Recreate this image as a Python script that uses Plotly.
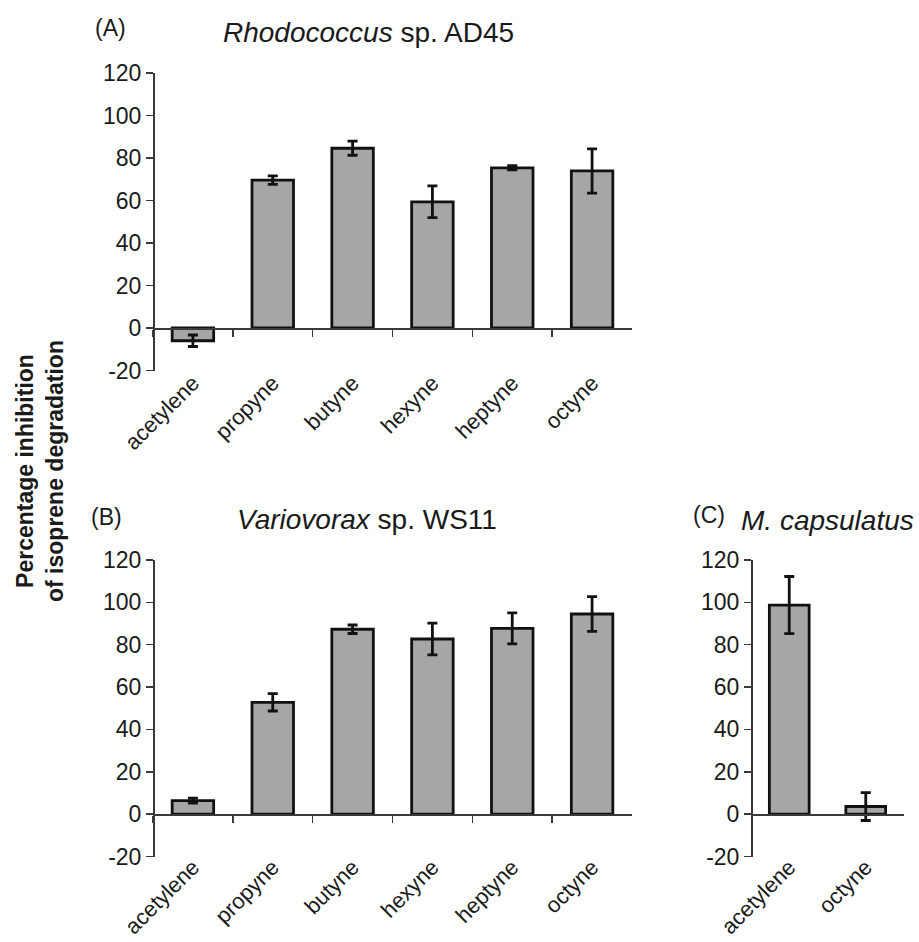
import plotly.graph_objects as go

W, H = 919, 942

cats_ab = ["acetylene", "propyne", "butyne", "hexyne", "heptyne", "octyne"]
vals_a = [-6.0, 69.6, 84.6, 59.4, 75.4, 73.9]
err_a = [2.7, 2.0, 3.3, 7.5, 1.0, 10.4]
vals_b = [6.4, 52.8, 87.3, 82.7, 87.7, 94.5]
err_b = [1.2, 4.1, 2.0, 7.5, 7.3, 8.2]
cats_c = ["acetylene", "octyne"]
vals_c = [98.7, 3.6]
err_c = [13.5, 6.6]

y_ticks = [-20, 0, 20, 40, 60, 80, 100, 120]
y_ticktext = ["-20", "0", "20", "40", "60", "80", "100", "120"]
Y_RANGE = [-20, 120]

FONT = "Liberation Sans, Arial, sans-serif"
TXT = "#1a1a1a"
AX = "#3a3a3a"
BAR = "#a6a6a6"


def px_x(x):
    return x / W


def px_y(y):
    return 1 - y / H


panels = [
    # (cats, vals, errs, x0, x1, ytop(120), ybottom(-20), boundary ticks, label standoff)
    (cats_ab, vals_a, err_a, 153, 632, 73, 370.5, True, 32),
    (cats_ab, vals_b, err_b, 153, 632, 560, 856.5, True, 30),
    (cats_c, vals_c, err_c, 751, 904, 560, 856.5, False, 30),
]

fig = go.Figure()
layout = {}
for i, (cats, vals, errs, x0, x1, yt, yb, bticks, stand) in enumerate(panels):
    n = i + 1
    xa = "x" if n == 1 else f"x{n}"
    ya = "y" if n == 1 else f"y{n}"
    xk = "xaxis" if n == 1 else f"xaxis{n}"
    yk = "yaxis" if n == 1 else f"yaxis{n}"
    fig.add_trace(go.Bar(
        x=cats, y=vals, xaxis=xa, yaxis=ya, width=0.52,
        marker=dict(color=BAR, line=dict(color="#111111", width=2.8)),
        error_y=dict(type="data", array=errs, visible=True, color="#111111",
                     thickness=2.8, width=5),
        showlegend=False, hoverinfo="skip",
    ))
    d0, d1 = px_y(yb), px_y(yt)
    zero_pos = d0 + (d1 - d0) * (0 - Y_RANGE[0]) / (Y_RANGE[1] - Y_RANGE[0])
    layout[xk] = dict(
        domain=[px_x(x0), px_x(x1)], anchor="free", position=zero_pos,
        type="category", range=[-0.5, len(cats) - 0.5], automargin=False,
        showline=True, linecolor=AX, linewidth=1.5,
        ticks="outside" if bticks else "", tickson="boundaries",
        ticklen=7, tickwidth=1.5, tickcolor=AX,
        tickangle=-45, ticklabelstandoff=stand,
        tickfont=dict(family=FONT, size=22, color=TXT),
        showgrid=False, zeroline=False, fixedrange=True,
    )
    layout[yk] = dict(
        domain=[d0, d1], anchor="free", position=px_x(x0), range=Y_RANGE,
        automargin=False,
        tickvals=y_ticks, ticktext=y_ticktext, ticks="outside", ticklen=7, tickwidth=1.5,
        tickcolor=AX, showline=True, linecolor=AX, linewidth=1.5,
        tickfont=dict(family=FONT, size=23, color=TXT),
        showgrid=False, zeroline=False, fixedrange=True,
    )

annots = [
    dict(text="(A)", x=px_x(93), y=px_y(28), xanchor="left", yanchor="middle", size=23),
    dict(text="<i>Rhodococcus</i> sp. AD45", x=px_x(368), y=px_y(33), xanchor="center", yanchor="middle", size=28),
    dict(text="(B)", x=px_x(89), y=px_y(517), xanchor="left", yanchor="middle", size=23),
    dict(text="<i>Variovorax</i> sp. WS11", x=px_x(367), y=px_y(519), xanchor="center", yanchor="middle", size=28),
    dict(text="(C)", x=px_x(691), y=px_y(515), xanchor="left", yanchor="middle", size=23),
    dict(text="<i>M. capsulatus</i>", x=px_x(739), y=px_y(520), xanchor="left", yanchor="middle", size=28),
]
ann_list = []
for a in annots:
    ann_list.append(dict(text=a["text"], x=a["x"], y=a["y"], xref="paper", yref="paper",
                         xanchor=a["xanchor"], yanchor=a["yanchor"], showarrow=False,
                         font=dict(family=FONT, size=a["size"], color=TXT)))
ann_list.append(dict(
    text="<b>Percentage inhibition</b><br><b>of isoprene degradation</b>",
    x=px_x(40), y=px_y(471), xref="paper", yref="paper", xanchor="center", yanchor="middle",
    textangle=-90, showarrow=False, font=dict(family=FONT, size=23, color=TXT)))

fig.update_layout(
    width=W, height=H, margin=dict(l=0, r=0, t=0, b=0, autoexpand=False),
    paper_bgcolor="white", plot_bgcolor="white",
    annotations=ann_list, showlegend=False, bargap=0.48,
    **layout,
)

# let the figure fill the whole page (no default body margin, no scrollbars)
page_style = (
    "document.documentElement.style.margin='0';"
    "document.documentElement.style.overflow='hidden';"
    "document.body.style.margin='0';"
    "document.body.style.overflow='hidden';"
)
fig.write_html("out.html", post_script=page_style,
               config={"displayModeBar": False, "staticPlot": True})
